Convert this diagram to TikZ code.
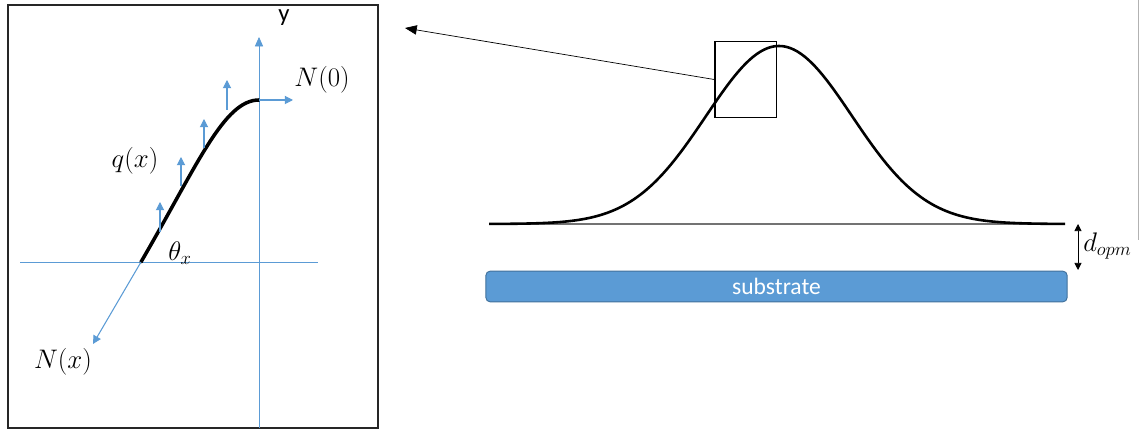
\documentclass[tikz,border=0pt]{standalone}
\usepackage{amsmath,amssymb}
\usepackage{fontspec}
\setsansfont{Carlito}
\usetikzlibrary{arrows.meta}

\definecolor{axisblue}{RGB}{91,155,213}
\definecolor{edgeblue}{RGB}{65,113,156}

\begin{document}
\begin{tikzpicture}[
    x=0.85pt, y=-0.85pt,
    axis/.style={draw=axisblue, line width=0.6pt},
    force/.style={draw=axisblue, line width=0.9pt, -{Triangle[width=7pt, length=7pt]}},
    beam/.style={line width=3pt, line cap=round},
    profile/.style={line width=2.2pt},
    lbl/.style={font=\fontsize{20.74}{25}\selectfont, inner sep=0pt, scale=1.1, transform shape},
    frame/.style={draw=black!85, line width=1.3pt},
    substrate/.style={rectangle, draw=edgeblue, line width=0.8pt, fill=axisblue, rounded corners=3.5pt, minimum width=494pt, minimum height=26pt, text=white, font=\sffamily\fontsize{20}{23}\selectfont},
    pointer/.style={-{Triangle[width=8pt, length=10pt]}, line width=0.6pt}
]
    \useasboundingbox (0,0) rectangle (1142,431);

    % left panel: beam detail
    \draw[frame] (8,5) rectangle (378,428);
    \coordinate (xl) at (20,262);
    \coordinate (xr) at (318,262);
    \coordinate (yb) at (259,428);
    \coordinate (yt) at (259,37);
    \draw[axis] (xl) -- (xr);
    \draw[axis, -{Triangle[width=7pt, length=8pt]}] (yb) -- (yt);
    \node[font=\sffamily\fontsize{21}{24}\selectfont, inner sep=0pt] (ylab) at (284,18) {y};

    \coordinate (foot) at (141,262);
    \coordinate (tip) at (259,100);
    \draw[beam] (foot) .. controls (198,164) and (224,100) .. (tip);

    \coordinate (q1) at (160,232); \coordinate (q1t) at (160,202);
    \coordinate (q2) at (181,186); \coordinate (q2t) at (181,157);
    \coordinate (q3) at (204,148); \coordinate (q3t) at (204,119);
    \coordinate (q4) at (227,110); \coordinate (q4t) at (227,80);
    \foreach \i in {1,...,4}
        \draw[force] (q\i) -- (q\i t);

    \coordinate (n0) at (293,100);
    \coordinate (nx) at (93,344);
    \draw[force] (tip) -- (n0);
    \draw[force] (foot) -- (nx);

    \node[lbl] (n0lab) at (322,80) {$N(0)$};
    \node[lbl] (qlab) at (135,161) {$q(x)$};
    \node[lbl] (thlab) at (180,253) {$\theta_x$};
    \node[lbl] (nxlab) at (63,362) {$N(x)$};

    % right panel: film profile over substrate
    \coordinate (bl) at (489,224);
    \coordinate (br) at (1065,224);
    \draw[black!55, line width=1.2pt] (bl) -- (br);
    \draw[profile] plot[domain=489:1065, samples=160] (\x, {224-178*exp(-((\x-779)/73)^2/2)});

    \node[draw, line width=1pt, minimum width=52pt, minimum height=64pt, inner sep=0pt] (zoombox) at (745.5,79.5) {};
    \coordinate (target) at (405,28);
    \draw[pointer] (zoombox.west) -- (target);

    \node[substrate] (sub) at (776.5,286.5) {substrate};

    \coordinate (gtop) at (1078,224);
    \coordinate (gbot) at (1078,270);
    \draw[{Triangle[width=6pt, length=6pt]}-{Triangle[width=6pt, length=6pt]}, line width=0.6pt] (gtop) -- (gbot);
    \node[lbl, anchor=west] (dlab) at (1083,246) {$d_{opm}$};

    \coordinate (edgetop) at (1138,0);
    \coordinate (edgebot) at (1138,240);
    \draw[black!30, line width=0.6pt] (edgetop) -- (edgebot);
\end{tikzpicture}
\end{document}
